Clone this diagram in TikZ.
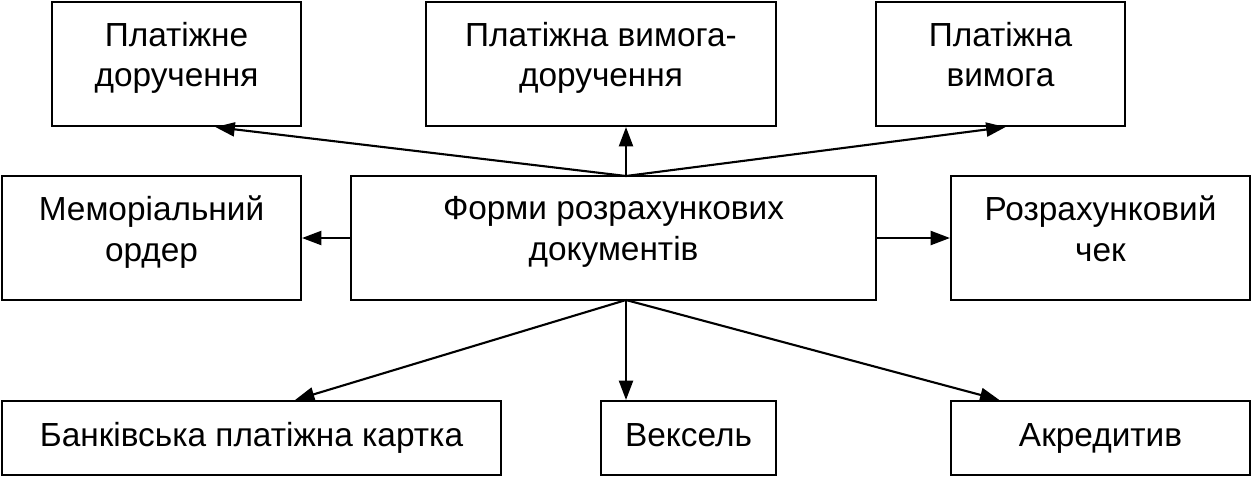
\documentclass[tikz,border=0pt]{standalone}
\usepackage{fontspec}
\setmainfont{Liberation Sans}
\usetikzlibrary{arrows.meta,calc}
\begin{document}
\begin{tikzpicture}[x=0.02cm,y=-0.02cm,
    box/.style={draw, line width=1.2pt, inner sep=0pt, align=center, font=\fontsize{19}{23}\selectfont},
    arr/.style={line width=1.2pt, -{Triangle[length=11pt,width=8pt]}}]
    \useasboundingbox (0,0) rectangle (1253,478);
    % блоки
    \node[box, minimum width=249*0.02cm, minimum height=124*0.02cm] (tl) at (176.5,64) {Платіжне\\доручення\strut\vspace{4pt}};
    \node[box, minimum width=350*0.02cm, minimum height=124*0.02cm] (tm) at (601,64) {Платіжна вимога-\\доручення\strut\vspace{4pt}};
    \node[box, minimum width=249*0.02cm, minimum height=124*0.02cm] (tr) at (1000.5,64) {Платіжна\\вимога\strut\vspace{4pt}};
    \node[box, minimum width=299*0.02cm, minimum height=124*0.02cm] (ml) at (151.5,238) {Меморіальний\\ордер\strut\vspace{4pt}};
    \node[box, minimum width=525*0.02cm, minimum height=124*0.02cm] (c) at (613.5,238) {Форми розрахункових\\документів\strut\vspace{4pt}};
    \node[box, minimum width=299*0.02cm, minimum height=124*0.02cm] (mr) at (1100.5,238) {Розрахунковий\\чек\strut\vspace{4pt}};
    \node[box, minimum width=499*0.02cm, minimum height=74*0.02cm] (bl) at (251.5,438) {Банківська платіжна картка\strut};
    \node[box, minimum width=175*0.02cm, minimum height=74*0.02cm] (bm) at (688.5,438) {Вексель\strut};
    \node[box, minimum width=299*0.02cm, minimum height=74*0.02cm] (br) at (1100.5,438) {Акредитив\strut};

    % точки на рамках
    \coordinate (ct) at (626,176);
    \coordinate (cb) at (626,300);
    \coordinate (tla) at ($(tl.south west)!0.655!(tl.south east)$);
    \coordinate (tma) at (tm.south -| ct);
    \coordinate (tra) at ($(tr.south west)!0.52!(tr.south east)$);
    \coordinate (bla) at ($(bl.north west)!0.587!(bl.north east)$);
    \coordinate (bma) at (bm.north -| cb);
    \coordinate (bra) at ($(br.north west)!0.164!(br.north east)$);

    % стрілки
    \draw[arr] (ct) -- (tla);
    \draw[arr] (ct) -- (tma);
    \draw[arr] (ct) -- (tra);
    \draw[arr] (c.west) -- (ml.east);
    \draw[arr] (c.east) -- (mr.west);
    \draw[arr] (cb) -- (bla);
    \draw[arr] (cb) -- (bma);
    \draw[arr] (cb) -- (bra);
\end{tikzpicture}
\end{document}
